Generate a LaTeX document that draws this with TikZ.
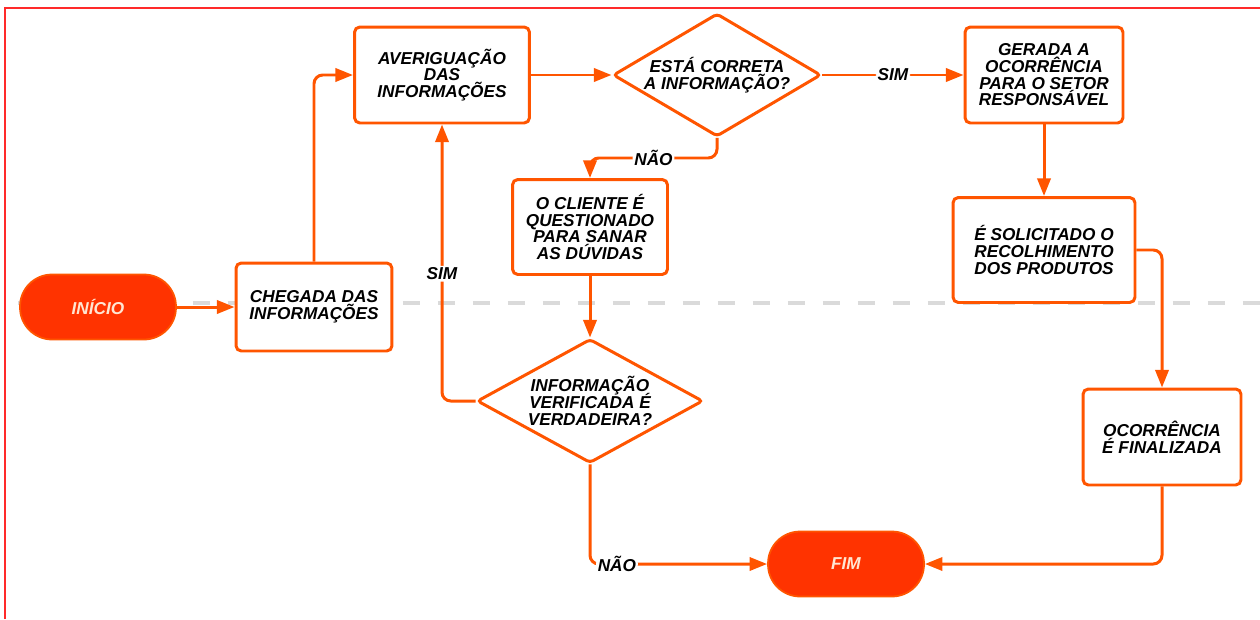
\documentclass[tikz,border=0pt]{standalone}
\usepackage{fontspec}
\setmainfont{Liberation Sans}
\usetikzlibrary{shapes.geometric,arrows.meta}

\definecolor{laranja}{HTML}{FF5500}
\definecolor{vermelho}{HTML}{FF3300}
\definecolor{cinza}{HTML}{DADADA}
\definecolor{moldura}{HTML}{FF2A2A}
\definecolor{claro}{HTML}{FFE6D2}

\newcommand\letrafluxo{\fontsize{9.8}{9.5}\selectfont\lineskiplimit -9pt\relax\bfseries\itshape}

\tikzset{
  fonte/.style={font=\letrafluxo},
  caixa/.style={fonte, draw=laranja, line width=1.7pt, rounded corners=3pt,
    fill=white, align=center, inner sep=2pt},
  decisao/.style={fonte, diamond, draw=laranja, line width=1.7pt, fill=white,
    align=center, inner sep=0pt, rounded corners=2pt},
  terminal/.style={fonte, draw=laranja, line width=1pt, fill=vermelho, text=claro,
    rounded corners=0.64cm, minimum width=3.12cm, minimum height=1.3cm},
  seta/.style={draw=laranja, line width=1.7pt, rounded corners=5pt,
    -{Triangle[length=10pt,width=7.5pt]}},
  rotulo/.style={fonte, fill=white, inner sep=1pt},
}

\begin{document}
\begin{tikzpicture}[x=0.02cm, y=-0.02cm]
        \useasboundingbox (0,0) rectangle (1260,619);
        % moldura
        \draw[moldura, line width=0.85pt] (5,619) -- (5,8) -- (1260,8);
        % linha tracejada
        \draw[cinza, line width=2pt, dash pattern=on 0.34cm off 0.36cm] (18,303) -- (1260,303);

        % nos
        \node[terminal] (inicio) at (98,307) {INÍCIO};
        \node[caixa, minimum width=3.12cm, minimum height=1.76cm] (chegada) at (314,307)
          {CHEGADA DAS\\INFORMAÇÕES};
        \node[caixa, minimum width=3.5cm, minimum height=1.92cm] (averig) at (442,75)
          {AVERIGUAÇÃO\\DAS\\INFORMAÇÕES};
        \node[decisao, aspect=1.69, minimum width=4.16cm, minimum height=2.46cm] (correta) at (717,75)
          {ESTÁ CORRETA\\A INFORMAÇÃO?};
        \node[caixa, minimum width=3.16cm, minimum height=1.92cm] (gerada) at (1044,75)
          {GERADA A\\OCORRÊNCIA\\PARA O SETOR\\RESPONSÁVEL};
        \node[caixa, minimum width=3.1cm, minimum height=1.9cm] (cliente) at (590,227)
          {O CLIENTE É\\QUESTIONADO\\PARA SANAR\\AS DÚVIDAS};
        \node[caixa, minimum width=3.64cm, minimum height=2.1cm] (solic) at (1044,250)
          {É SOLICITADO O\\RECOLHIMENTO\\DOS PRODUTOS};
        \node[decisao, aspect=1.82, minimum width=4.52cm, minimum height=2.48cm] (verif) at (590,401)
          {INFORMAÇÃO\\VERIFICADA É\\VERDADEIRA?};
        \node[caixa, minimum width=3.16cm, minimum height=1.92cm] (ocorr) at (1162,437)
          {OCORRÊNCIA\\É FINALIZADA};
        \node[terminal] (fim) at (846,564) {FIM};

        % ligacoes
        \coordinate (dobra) at (717,158);
        \draw[seta] (inicio) -- (chegada);
        \draw[seta] (chegada.north) |- (averig.west);
        \draw[seta] (averig) -- (correta);
        \draw[seta] (correta) -- node[rotulo] {SIM} (gerada);
        \draw[seta] (correta.south) -- (dobra) -| node[rotulo, pos=0.25] {NÃO} (cliente.north);
        \draw[seta] (cliente) -- (verif);
        \draw[seta] (verif.west) -| node[rotulo, pos=0.73] {SIM} (averig.south);
        \draw[seta] (verif.south) |- node[rotulo, pos=0.576] {NÃO} (fim.west);
        \draw[seta] (gerada) -- (solic);
        \draw[seta] (solic.east) -| (ocorr.north);
        \draw[seta] (ocorr.south) |- (fim.east);
    \end{tikzpicture}
\end{document}
